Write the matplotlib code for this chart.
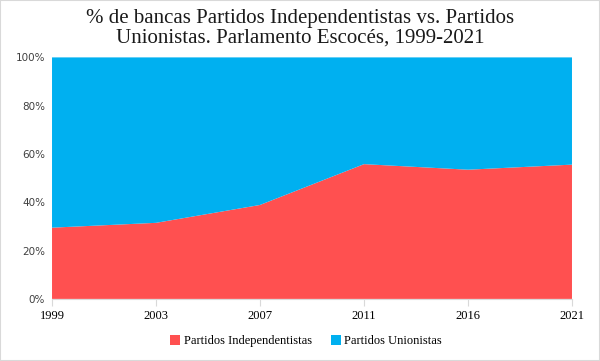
import matplotlib as mpl
mpl.use('Agg')
from matplotlib import pyplot as plt
import numpy as np

# % of seats, Scottish Parliament
years = ['1999', '2003', '2007', '2011', '2016', '2021']
indep = np.array([29.5, 31.5, 38.9, 55.8, 53.5, 55.6])
union = 100 - indep

red = '#FF5050'
blue = '#00B0F0'

fig = plt.figure(figsize=(6, 3.61), dpi=100, facecolor='w')
fig.patches.append(mpl.patches.Rectangle((0, 0), 1, 1, transform=fig.transFigure,
                                         fill=False, edgecolor='#d9d9d9', lw=1.5))
ax = fig.add_axes([0.0867, 0.172, 0.8666, 0.669])

x = np.arange(len(years))
ax.stackplot(x, indep, union, colors=[red, blue], labels=['Partidos Independentistas', 'Partidos Unionistas'],
             linewidth=0)

ax.set_xlim(0, len(years) - 1)
ax.set_ylim(0, 100)
ax.set_xticks(x)
ax.set_xticklabels(years, family='Liberation Serif', fontsize=9)
ax.set_yticks(np.arange(0, 101, 20))
ax.set_yticklabels([f'{v}%' for v in range(0, 101, 20)], family='DejaVu Sans', fontsize=7.5, color='#404040')
ax.tick_params(axis='y', length=0, pad=5)
ax.tick_params(axis='x', length=5, color='#d9d9d9', pad=3)
for s in ['top', 'right', 'left']:
    ax.spines[s].set_visible(False)
ax.spines['bottom'].set_color('#d9d9d9')

fig.text(0.5, 0.868, '% de bancas Partidos Independentistas vs. Partidos\nUnionistas. Parlamento Escocés, 1999-2021',
         family='Liberation Serif', fontsize=15, color='#1a1a1a', ha='center', va='bottom',
         linespacing=1.05, multialignment='center')

leg = fig.legend(loc='center', bbox_to_anchor=(0.51, 0.055), ncol=2, frameon=False,
                 prop={'family': 'Liberation Serif', 'size': 9}, handlelength=0.8, handleheight=0.8,
                 handletextpad=0.3, columnspacing=1.5)

plt.savefig('out.png', dpi=100)
